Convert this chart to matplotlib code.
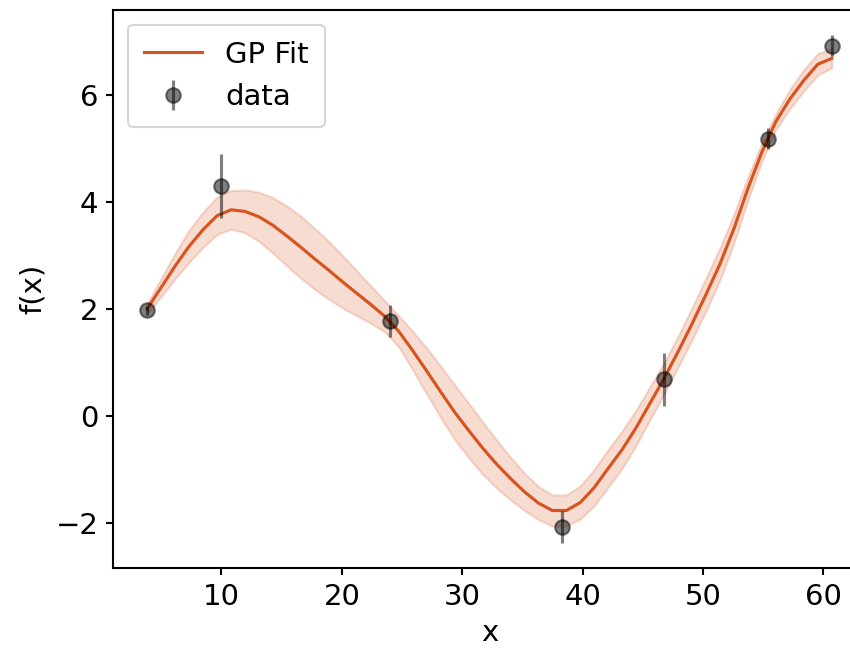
import numpy as np
import matplotlib
matplotlib.use("Agg")
import matplotlib.pyplot as plt

# observations with their measurement errors
x_obs = [3.83, 10.0, 24.0, 38.3, 46.8, 55.4, 60.7]
y_obs = [1.97, 4.30, 1.78, -2.07, 0.68, 5.18, 6.92]
y_err = [0.08, 0.60, 0.30, 0.30, 0.50, 0.20, 0.19]

# GP posterior mean and standard deviation on the prediction grid
x_pred = np.linspace(min(x_obs), max(x_obs), 50)
mu = [2.00, 2.40, 2.80, 3.17, 3.48, 3.74, 3.85, 3.82, 3.72, 3.56,
      3.36, 3.15, 2.93, 2.72, 2.50, 2.29, 2.08, 1.86, 1.58, 1.22,
      0.84, 0.45, 0.07, -0.27, -0.60, -0.90, -1.17, -1.42, -1.63, -1.77,
      -1.77, -1.62, -1.34, -0.98, -0.63, -0.22, 0.24, 0.70, 1.20, 1.72,
      2.27, 2.84, 3.50, 4.25, 4.93, 5.50, 5.92, 6.27, 6.57, 6.68]
sigma = [0.10, 0.17, 0.24, 0.30, 0.33, 0.35, 0.36, 0.40, 0.46, 0.52,
         0.56, 0.58, 0.57, 0.54, 0.49, 0.42, 0.35, 0.29, 0.29, 0.36,
         0.43, 0.48, 0.51, 0.51, 0.49, 0.45, 0.40, 0.35, 0.31, 0.29,
         0.29, 0.31, 0.34, 0.35, 0.35, 0.33, 0.31, 0.29, 0.29, 0.30,
         0.31, 0.30, 0.27, 0.22, 0.17, 0.15, 0.18, 0.20, 0.20, 0.18]

mu = np.array(mu)
sigma = np.array(sigma)

plt.rcParams['font.size'] = 14
plt.rcParams['axes.linewidth'] = 1.0
plt.rcParams['xtick.major.width'] = 1.0
plt.rcParams['ytick.major.width'] = 1.0

fig = plt.figure(figsize=(850 / 150, 648 / 150), dpi=150)
ax = fig.add_axes([113 / 850, 80 / 648, 753 / 850, 558 / 648])

orange = '#d9531e'
ax.plot(x_pred, mu, color=orange, label='GP Fit')
ax.fill_between(x_pred, mu - sigma, mu + sigma, color=orange, alpha=0.2)
ax.errorbar(x_obs, y_obs, yerr=y_err, fmt='ko', ms=7, alpha=0.5, label='data')

ax.set_xlabel('x')
ax.set_ylabel('f(x)')
ax.legend(loc='upper left', borderpad=0.55)

fig.savefig('out.png', dpi=150)
